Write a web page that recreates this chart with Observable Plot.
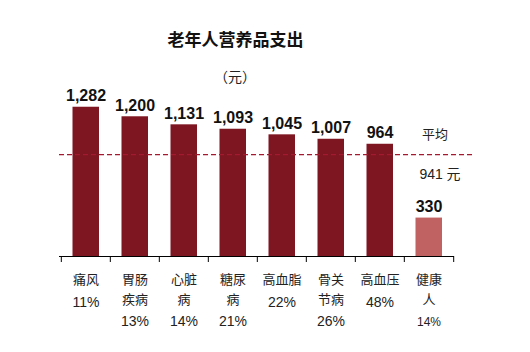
<!DOCTYPE html>
<html>
<head>
<meta charset="utf-8">
<script src="https://cdn.jsdelivr.net/npm/d3@7"></script>
<script src="https://cdn.jsdelivr.net/npm/@observablehq/plot@0.6"></script>
<style>
  html, body { margin: 0; padding: 0; background: #fff; }
</style>
</head>
<body>
<div id="chart"></div>
<script>
const title = "老年人营养品支出";
const unitLabel = "（元）";
const categories = ["痛风", "胃肠疾病", "心脏病", "糖尿病", "高血脂", "骨关节病", "高血压", "健康人"];
const nameLines = [["痛风"], ["胃肠", "疾病"], ["心脏", "病"], ["糖尿", "病"], ["高血脂"], ["骨关", "节病"], ["高血压"], ["健康", "人"]];
const spending = [1282, 1200, 1131, 1093, 1045, 1007, 964, 330];
const shares = ["11%", "13%", "14%", "21%", "22%", "26%", "48%", "14%"];
const averageText = "941 元";
const averageTitle = "平均";
const averageLineLevel = 875; // where the dashed line sits on the bar scale in the picture
const baselineGroup = "健康人";

const rows = categories.map((c, i) => ({
  cat: c,
  value: spending[i],
  valueLabel: d3.format(",")(spending[i]),
  line1: nameLines[i][0],
  line2: nameLines[i][1] || "",
  lines: nameLines[i].length,
  share: shares[i]
}));

const W = 530, H = 352;
const mL = 59, mR = 76, mT = 93, mB = 96;
const bw = (W - mL - mR) / categories.length;
const frameH = H - mT - mB;
const last = categories[categories.length - 1];
const sans = "'Liberation Sans', 'Noto Sans CJK SC', sans-serif";
const cjk = "'Noto Sans CJK SC', sans-serif";

function shareMarks(data, size, shift) {
  return [1, 2].map(n => Plot.text(data.filter(d => d.lines === n), {
    x: "cat", text: "share", frameAnchor: "bottom",
    lineAnchor: "top", dy: (n === 1 ? 40.5 : 60) + shift,
    fontSize: size, fill: "#222", fontFamily: sans
  }));
}

const chart = Plot.plot({
  width: W,
  height: H,
  marginLeft: mL,
  marginRight: mR,
  marginTop: mT,
  marginBottom: mB,
  style: { background: "#fff", fontFamily: sans },
  x: { type: "band", domain: categories, padding: 0, axis: null },
  y: { domain: [0, 1400], axis: null },
  marks: [
    Plot.barY(rows, {
      x: "cat", y: "value",
      fill: d => d.cat === baselineGroup ? "#C06262" : "#7E1621",
      insetLeft: 11.5, insetRight: 11
    }),
    Plot.ruleY([averageLineLevel], {
      stroke: "#A3192F", strokeWidth: 1.3, strokeDasharray: "5,3",
      insetRight: -21
    }),
    Plot.ruleY([0], { stroke: "#000", strokeWidth: 1 }),
    Plot.ruleX(categories, { x: d => d, dx: -bw / 2, insetTop: frameH, insetBottom: -6, stroke: "#000" }),
    Plot.ruleX([last], { x: d => d, dx: bw / 2, insetTop: frameH, insetBottom: -6, stroke: "#000" }),
    Plot.text(rows, {
      x: "cat", y: "value", text: "valueLabel",
      lineAnchor: "bottom", dy: -6,
      fontSize: 16, fontWeight: "bold", fill: "#111", fontFamily: sans
    }),
    Plot.text(rows, {
      x: "cat", text: "line1", frameAnchor: "bottom",
      lineAnchor: "top", dy: 18.5,
      fontSize: 13, fill: "#222", fontFamily: cjk
    }),
    Plot.text(rows.filter(d => d.lines === 2), {
      x: "cat", text: "line2", frameAnchor: "bottom",
      lineAnchor: "top", dy: 38.5,
      fontSize: 13, fill: "#222", fontFamily: cjk
    }),
    ...shareMarks(rows.filter(d => d.cat !== baselineGroup), 14, 0),
    ...shareMarks(rows.filter(d => d.cat === baselineGroup), 12, 0.5),
    Plot.text([averageTitle], {
      x: () => last, y: () => averageLineLevel, text: d => d,
      lineAnchor: "bottom", dy: -16, dx: 6,
      fontSize: 13, fill: "#222", fontFamily: cjk
    }),
    Plot.text([averageText], {
      x: () => last, y: () => averageLineLevel, text: d => d,
      lineAnchor: "bottom", dy: 24, dx: 11,
      fontSize: 14, fill: "#222", fontFamily: sans
    }),
    Plot.text([title], {
      frameAnchor: "top", text: d => d,
      lineAnchor: "bottom", dy: -47.5, dx: -21.5,
      fontSize: 17, fontWeight: "bold", fill: "#111", fontFamily: cjk,
      letterSpacing: 1.2
    }),
    Plot.text([unitLabel], {
      frameAnchor: "top", text: d => d,
      lineAnchor: "bottom", dy: -11.5, dx: -22,
      fontSize: 14, fill: "#222", fontFamily: cjk
    })
  ]
});
document.getElementById("chart").appendChild(chart);
</script>
</body>
</html>
